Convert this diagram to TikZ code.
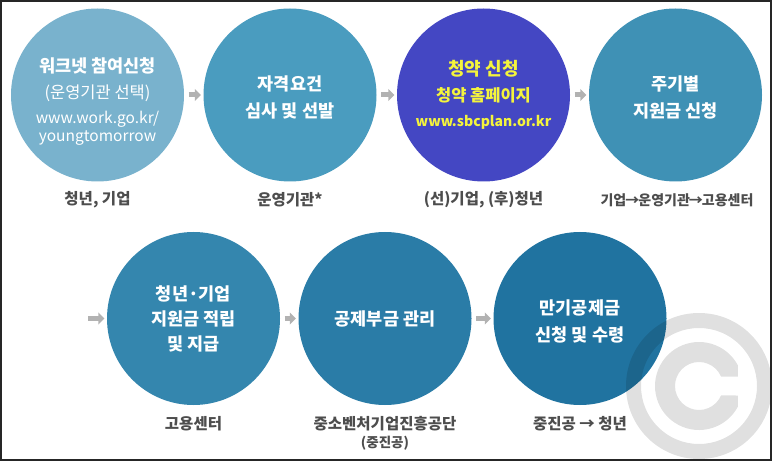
\documentclass[tikz,border=0pt]{standalone}
\usepackage{fontspec}
\setmainfont{Noto Sans CJK KR}
\usetikzlibrary{arrows.meta}

\definecolor{stepA}{HTML}{79B2CD}
\definecolor{stepB}{HTML}{4A9CBF}
\definecolor{stepC}{HTML}{4447C3}
\definecolor{stepD}{HTML}{3F91B5}
\definecolor{stepE}{HTML}{3486AE}
\definecolor{stepF}{HTML}{2A7CA7}
\definecolor{stepG}{HTML}{2073A0}
\definecolor{arrowgray}{HTML}{B2B2B2}
\definecolor{labelgray}{HTML}{4D4D4D}
\definecolor{siteyellow}{HTML}{F4F43C}

\begin{document}
\begin{tikzpicture}
    [x=1pt,y=-1pt,
    stage/.style={circle,minimum size=173pt,inner sep=0pt,text=white,align=center,
        font=\fontsize{17.5}{27}\selectfont\bfseries},
    flow/.style={-{Triangle[length=6pt,width=12pt]},line width=5pt,draw=arrowgray,
        shorten <=4.5pt,shorten >=2.5pt},
    who/.style={text=labelgray,font=\fontsize{15.5}{17}\selectfont\bfseries},
    wmark/.style={fill=black,opacity=0.12}]

\useasboundingbox (0,0) rectangle (773,462);

%first row of steps
\node[stage,fill=stepA] (apply) at (97.5,95)
    {\rule{0pt}{27pt}워크넷 참여신청\\[-1pt]
    {\mdseries\fontsize{16.5}{27}\selectfont (운영기관 선택)}\\[-2pt]
    {\mdseries\fontsize{15.5}{27}\selectfont www.work.go.kr/}\\[-9pt]
    {\mdseries\fontsize{15.5}{27}\selectfont youngtomorrow}};
\node[stage,fill=stepB] (screen) at (290,95) {\rule{0pt}{20pt}자격요건\\심사 및 선발};
\node[stage,fill=stepC,text=siteyellow] (enrol) at (483.5,95)
    {{\fontsize{18}{27}\selectfont 청약 신청}\\[-1pt]
    {\fontsize{16.5}{27}\selectfont 청약 홈페이지}\\[-2pt]
    {\fontsize{14}{27}\selectfont www.sbcplan.or.kr}};
\node[stage,fill=stepD] (claim) at (675.5,95) {\rule{0pt}{20pt}주기별\\지원금 신청};

%second row of steps
\coordinate (rowstart) at (88,318.5);
\node[stage,fill=stepE] (save) at (193.5,318.5) {청년·기업\\[-2pt]지원금 적립\\[-2pt]및 지급};
\node[stage,fill=stepF] (manage) at (385,318.5) {공제부금 관리};
\node[stage,fill=stepG] (payout) at (580,318.5) {\rule{0pt}{20pt}만기공제금\\신청 및 수령};

%arrows between steps
\draw[flow] (apply) -- (screen);
\draw[flow] (screen) -- (enrol);
\draw[flow] (enrol) -- (claim);
\draw[flow,shorten <=0pt] (rowstart) -- (save);
\draw[flow] (save) -- (manage);
\draw[flow] (manage) -- (payout);

%who does each step
\node[who] (applyWho) at (97.5,200) {청년, 기업};
\node[who] (screenWho) at (290,200) {운영기관*};
\node[who] (enrolWho) at (483.5,200) {(선)기업, (후)청년};
\node[who,font=\fontsize{14}{15}\selectfont\bfseries] (claimWho) at (677,200)
    {기업\kern-1pt→\kern-1pt운영기관\kern-1pt→\kern-1pt고용센터};
\node[who] (saveWho) at (193.5,424) {고용센터};
\node[who] (manageWho) at (385,424) {중소벤처기업진흥공단};
\node[who,font=\fontsize{13.5}{15}\selectfont\bfseries] (manageShort) at (385,443) {(중진공)};
\node[who] (payoutWho) at (580,424) {중진공 → 청년};

%copyright mark
\fill[wmark,even odd rule] (699,386) circle[radius=73] (699,386) circle[radius=58];
\begin{scope}[shift={(699,386)}]
\fill[wmark] (38.85,20.66) arc[start angle=28,end angle=332,radius=44]
    -- (38.85,-9.5) -- (22.04,-9.5) arc[start angle=336.7,end angle=23.3,radius=24]
    -- (38.85,9.5) -- cycle;
\end{scope}

%frame
\draw[line width=2pt,black!85] (1,1) rectangle (771,460);

\end{tikzpicture}
\end{document}
